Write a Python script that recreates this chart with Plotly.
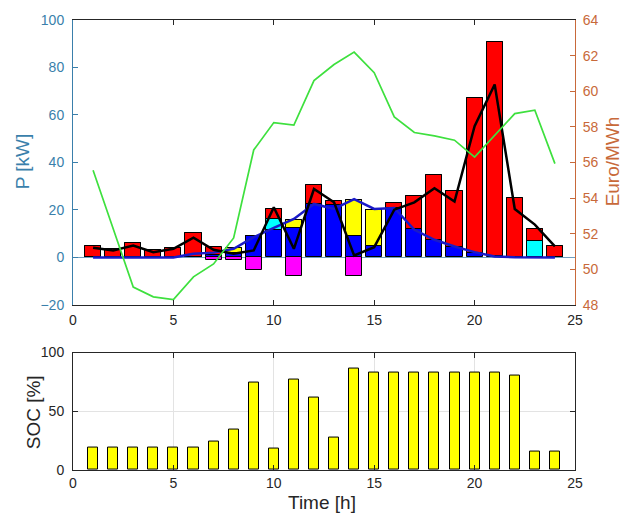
import plotly.graph_objects as go

hours = list(range(1, 25))
pv_used = [0, 0, 0, 0, 0, 0, 1.0, 2.0, 8.8, 11.7, 12.3, 22.5, 22.0, 9.2, 4.6, 20.8, 12.0, 7.4, 4.3, 2.0, 0.5, 0, 0, 0]
batt_dis = [0, 0, 0, 0, 0, 0, 0, 0, 0, 4.3, 0, 0, 0, 0, 0, 0, 0, 0, 0, 0, 0, 0, 7.1, 0]
yellow = [0, 0, 0, 0, 0, 0, 0, 2.0, 0, 0, 3.5, 0, 0, 15.0, 15.4, 0, 0, 0, 0, 0, 0, 0, 0, 0]
grid = [4.7, 3.6, 6.1, 2.9, 4.0, 10.3, 3.3, 0, 0, 4.4, 0, 8.1, 1.6, 0, 0, 2.1, 13.9, 27.3, 23.5, 65.2, 90.1, 25.2, 4.8, 4.6]
charge = [0, 0, 0, 0, 0, 0, -1.0, -1.3, -5.2, 0, -8.0, 0, 0, -8.0, 0, 0, 0, 0, 0, 0, 0, 0, 0, 0]
load = [4.1, 2.9, 5.0, 2.2, 3.6, 8.3, 3.2, 1.5, 2.9, 21.1, 3.6, 28.8, 23.2, 0.8, 4.3, 20.1, 23.2, 29.1, 23.5, 55.3, 72.8, 20.4, 13.8, 4.6]
pv_avail = [0, 0, 0, 0, 0, 1.5, 2.0, 3.6, 8.5, 12.4, 16.2, 22.5, 20.4, 24.5, 20.4, 20.8, 11.6, 7.4, 4.6, 2.2, 0.4, 0.1, 0, 0]
price = [55.56, 52.3, 49.0, 48.45, 48.3, 49.57, 50.3, 51.76, 56.7, 58.24, 58.1, 60.6, 61.5, 62.2, 61.04, 58.56, 57.68, 57.49, 57.25, 56.3, 57.5, 58.74, 58.93, 55.93]
soc = [19.5, 19.5, 19.5, 19.5, 19.5, 19.5, 24, 34.5, 74.3, 18.4, 77.4, 61.9, 27.4, 86.2, 83, 83, 83, 83, 83, 83, 83, 80.8, 15.3, 15.3]

FONT = "Liberation Sans, Arial, sans-serif"
BLUE_AX = "#3a7fab"
ORANGE_AX = "#c8693a"
DARK = "#262626"

fig = go.Figure()
line_bar = dict(color="black", width=1)
for vals, col in [(pv_used, "#0000ff"), (batt_dis, "#00ffff"), (yellow, "#ffff00"),
                  (grid, "#ff0000"), (charge, "#ff00ff")]:
    fig.add_trace(go.Bar(x=hours, y=vals, width=0.8, marker=dict(color=col, line=line_bar),
                         xaxis="x", yaxis="y", showlegend=False))
fig.add_trace(go.Scatter(x=hours, y=pv_avail, mode="lines", line=dict(color="#1a1ac8", width=2.5),
                         xaxis="x", yaxis="y", showlegend=False))
fig.add_trace(go.Scatter(x=hours, y=load, mode="lines", line=dict(color="black", width=2.5),
                         xaxis="x", yaxis="y", showlegend=False))
fig.add_trace(go.Scatter(x=hours, y=price, mode="lines", line=dict(color="#3ee03e", width=1.7),
                         xaxis="x", yaxis="y2", showlegend=False))
fig.add_trace(go.Bar(x=hours, y=soc, width=0.5, marker=dict(color="#ffff00", line=line_bar),
                     xaxis="x2", yaxis="y3", showlegend=False))

tickfont = dict(family=FONT, size=14, color=DARK)
fig.update_layout(
    width=629, height=519,
    margin=dict(l=73, r=54, t=18, b=49),
    paper_bgcolor="white", plot_bgcolor="white",
    barmode="relative", bargap=0,
    xaxis=dict(domain=[0, 1], anchor="y", range=[0, 25], tickvals=[0, 5, 10, 15, 20, 25],
               ticks="inside", ticklen=5, tickcolor=DARK, showline=True, linecolor=DARK,
               mirror="ticks", showgrid=False, zeroline=False, tickfont=tickfont,
               ticklabelstandoff=2),
    yaxis=dict(domain=[0.367, 1], anchor="x", range=[-20, 100], tickvals=[-20, 0, 20, 40, 60, 80, 100],
               ticks="inside", ticklen=5, tickcolor=BLUE_AX, showline=True, linecolor=BLUE_AX,
               showgrid=False, zeroline=True, zerolinecolor="#6f9fbf", zerolinewidth=1,
               tickfont=dict(family=FONT, size=14, color=BLUE_AX), ticklabelstandoff=5),
    yaxis2=dict(overlaying="y", side="right", anchor="x", range=[48, 64],
                tickvals=[48, 50, 52, 54, 56, 58, 60, 62, 64],
                ticks="inside", ticklen=5, tickcolor=ORANGE_AX, showline=True, linecolor=ORANGE_AX,
                showgrid=False, zeroline=False,
                tickfont=dict(family=FONT, size=14, color=ORANGE_AX), ticklabelstandoff=4),
    xaxis2=dict(domain=[0, 1], anchor="y3", range=[0, 25], tickvals=[0, 5, 10, 15, 20, 25],
                ticks="inside", ticklen=5, tickcolor=DARK, showline=True, linecolor=DARK,
                mirror="ticks", showgrid=True, gridcolor="#e3e3e3", zeroline=False, tickfont=tickfont),
    yaxis3=dict(domain=[0, 0.261], anchor="x2", range=[0, 100], tickvals=[0, 50, 100],
                ticks="inside", ticklen=5, tickcolor=DARK, showline=True, linecolor=DARK,
                mirror="ticks", showgrid=True, gridcolor="#e3e3e3", zeroline=False, tickfont=tickfont,
                ticklabelstandoff=5),
    annotations=[
        dict(text="P [kW]", x=22, y=160, textangle=-90,
             font=dict(family=FONT, size=19, color=BLUE_AX)),
        dict(text="Euro/MWh", x=612, y=160, textangle=-90,
             font=dict(family=FONT, size=19, color=ORANGE_AX)),
        dict(text="SOC [%]", x=33, y=412, textangle=-90,
             font=dict(family=FONT, size=19, color=DARK)),
        dict(text="Time [h]", x=322, y=503,
             font=dict(family=FONT, size=19, color=DARK)),
    ],
)

# convert pixel positions of annotations to paper coordinates
W, H = 629, 519
L, R, T, B = 73, 54, 18, 49
pw, ph = W - L - R, H - T - B
for a in fig.layout.annotations:
    a.x = (a.x - L) / pw
    a.y = 1 - (a.y - T) / ph
    a.xref = "paper"
    a.yref = "paper"
    a.xanchor = "center"
    a.yanchor = "middle"
    a.showarrow = False

fig.write_html("out.html")
